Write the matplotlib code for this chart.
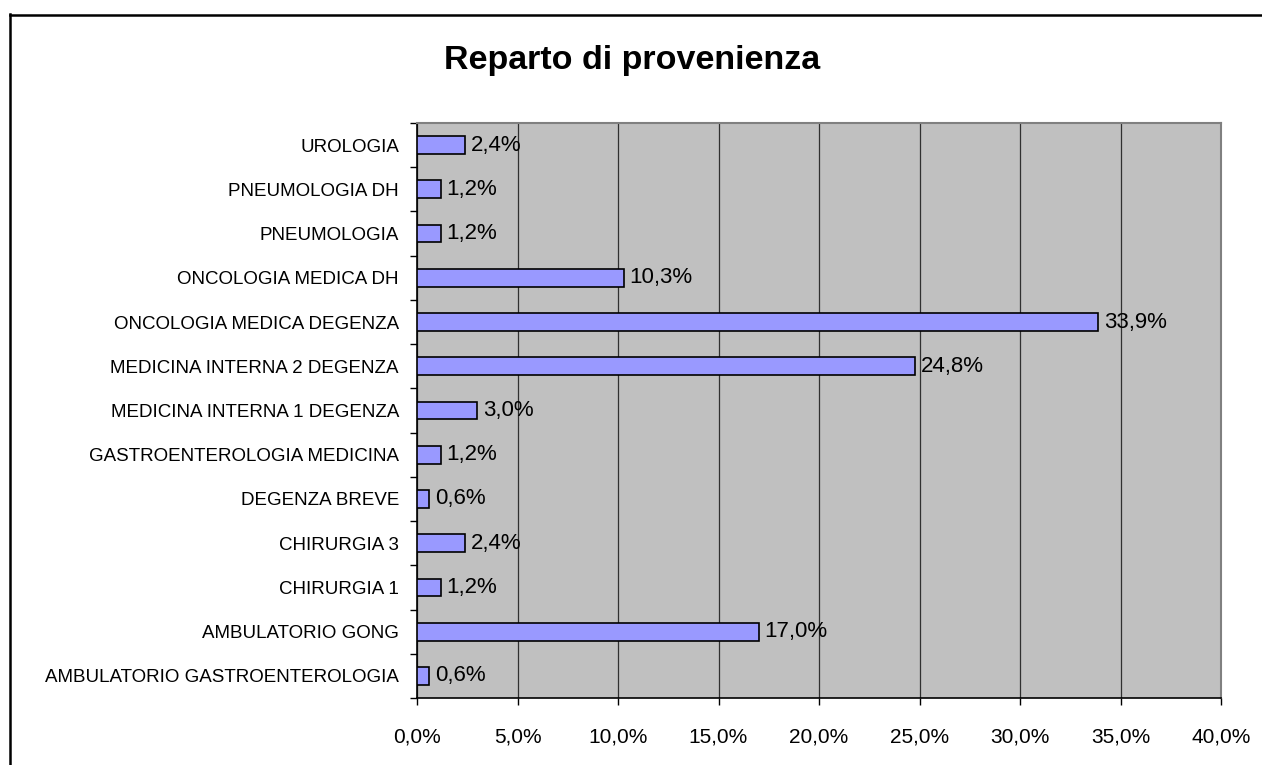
import matplotlib.pyplot as plt
from matplotlib.lines import Line2D
from matplotlib.ticker import FuncFormatter

plt.rcParams['font.family'] = ['Liberation Sans', 'DejaVu Sans']

# bottom to top, as drawn
reparti = ['AMBULATORIO GASTROENTEROLOGIA', 'AMBULATORIO GONG', 'CHIRURGIA 1',
           'CHIRURGIA 3', 'DEGENZA BREVE', 'GASTROENTEROLOGIA MEDICINA',
           'MEDICINA INTERNA 1 DEGENZA', 'MEDICINA INTERNA 2 DEGENZA',
           'ONCOLOGIA MEDICA DEGENZA', 'ONCOLOGIA MEDICA DH', 'PNEUMOLOGIA',
           'PNEUMOLOGIA DH', 'UROLOGIA']
percentuali = [0.6, 17.0, 1.2, 2.4, 0.6, 1.2, 3.0, 24.8, 33.9, 10.3, 1.2, 1.2, 2.4]
xticks = [0, 5, 10, 15, 20, 25, 30, 35, 40]

def fmt(v):
    return f'{v:.1f}%'.replace('.', ',')

fig = plt.figure(figsize=(12.62, 7.65), dpi=100)
ax = fig.add_axes([417/1262, 1 - 698/765, (1221 - 417)/1262, (698 - 123)/765])
ax.set_facecolor('#C0C0C0')

pos = list(range(len(reparti)))
ax.barh(pos, percentuali, height=0.4, color='#9999FF', edgecolor='black',
        linewidth=1.2, zorder=3)
for p, v in zip(pos, percentuali):
    ax.text(v + 0.28, p, fmt(v), va='center', ha='left', fontsize=16, zorder=4)

ax.set_xlim(0, 40)
ax.set_ylim(-0.5, len(reparti) - 0.5)
ax.set_xticks(xticks)
ax.xaxis.set_major_formatter(FuncFormatter(lambda v, _: fmt(v)))
ax.set_yticks(pos)
ax.set_yticklabels(reparti)
ax.set_yticks([p - 0.5 for p in pos] + [len(reparti) - 0.5], minor=True)
ax.tick_params(axis='y', which='major', length=0, pad=13, labelsize=13.5)
ax.tick_params(axis='y', which='minor', length=5, width=1, direction='out')
ax.tick_params(axis='x', length=5, width=1, direction='out', pad=16, labelsize=15)

ax.grid(axis='x', color='#303030', linewidth=0.9, zorder=1)
ax.set_axisbelow(True)
for s in ['top', 'right']:
    ax.spines[s].set_color('#808080')
    ax.spines[s].set_linewidth(1.5)
for s in ['left', 'bottom']:
    ax.spines[s].set_color('black')
    ax.spines[s].set_linewidth(1.2)

fig.text(632/1262, 1 - 69/765, 'Reparto di provenienza', ha='center', va='baseline',
         fontsize=24.5, fontweight='bold')

# chart frame (cut off on right and bottom)
fig.add_artist(Line2D([10/1262, 10/1262], [0, 1 - 14/765], color='black', linewidth=1.8))
fig.add_artist(Line2D([10/1262, 1], [1 - 15/765, 1 - 15/765], color='black', linewidth=1.8))

fig.savefig('out.png', dpi=100)
